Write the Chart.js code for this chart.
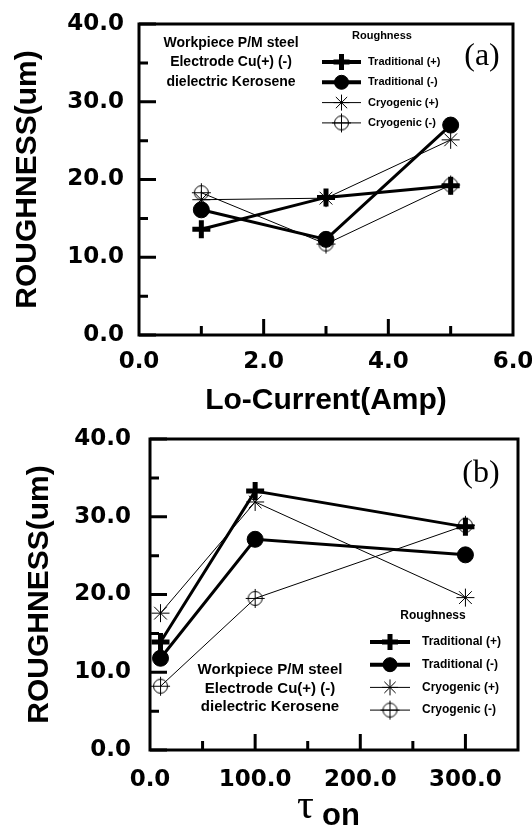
<!DOCTYPE html>
<html>
<head>
<meta charset="utf-8">
<script src="https://cdn.jsdelivr.net/npm/chart.js@4.4.1/dist/chart.umd.min.js"></script>
<style>
  body { margin: 0; background: #fff; width: 532px; height: 827px; overflow: hidden; position: relative; }
  .panel { position: absolute; left: 0; width: 532px; }
</style>
</head>
<body>
<div class="panel" style="top:0;height:420px"><canvas id="chartA"></canvas></div>
<div class="panel" style="top:414px;height:413px"><canvas id="chartB"></canvas></div>
<script>
const seriesNames = ["Traditional (+)", "Traditional (-)", "Cryogenic (+)", "Cryogenic (-)"];
const legendTitle = "Roughness";
const noteLines = ["Workpiece P/M steel", "Electrode Cu(+) (-)", "dielectric Kerosene"];
const yTitle = "ROUGHNESS(um)";

// (a) roughness vs low current
const currentX = [1, 3, 5];
const currentTradPlus = [13.6, 17.7, 19.2];
const currentTradMinus = [16.1, 12.3, 27.0];
const currentCryoPlus = [17.4, 17.6, 25.1];
const currentCryoMinus = [18.3, 11.7, 19.3];
const currentTicks = [0, 2, 4, 6];
const currentMinorTicks = [1, 3, 5];

// (b) roughness vs pulse on-time
const tonX = [10, 100, 300];
const tonTradPlus = [13.9, 33.3, 28.7];
const tonTradMinus = [11.8, 27.1, 25.1];
const tonCryoPlus = [17.6, 31.9, 19.6];
const tonCryoMinus = [8.2, 19.5, 28.9];
const tonTicks = [0, 100, 200, 300];
const tonMinorTicks = [50, 150, 250];

const roughTicks = [0, 10, 20, 30, 40];
const roughMinorTicks = [5, 15, 25, 35];

const SANS = "'Liberation Sans', Arial, sans-serif";
const SERIF = "'Liberation Serif', 'Times New Roman', serif";

// open circle with a cross through it
function circlePlus() {
    const c = document.createElement("canvas");
    c.width = 21; c.height = 21;
    const g = c.getContext("2d");
    g.strokeStyle = "#000";
    g.lineWidth = 1;
    g.beginPath();
    g.arc(10.5, 10.5, 7, 0, Math.PI * 2);
    g.moveTo(10.5, 1); g.lineTo(10.5, 20);
    g.moveTo(1, 10.5); g.lineTo(20, 10.5);
    g.stroke();
    return c;
}

const seriesStyle = [
    { borderWidth: 3, pointStyle: "cross", pointRadius: 9, pointBorderWidth: 5 },
    { borderWidth: 3, pointStyle: "circle", pointRadius: 8, pointBorderWidth: 1 },
    { borderWidth: 1, pointStyle: "star", pointRadius: 9, pointBorderWidth: 1 },
    { borderWidth: 1, pointStyle: circlePlus(), pointRadius: 8, pointBorderWidth: 1 },
];

function makeDatasets(xs, series) {
    return series.map((vals, i) => Object.assign({
        label: seriesNames[i],
        data: vals.map((v, j) => ({ x: xs[j], y: v })),
        showLine: true,
        borderColor: "#000",
        pointBorderColor: "#000",
        pointBackgroundColor: "#000",
    }, seriesStyle[i]));
}

// frame, inward ticks, legend, notes
function decor(cfg) {
    return {
        id: "decor",
        afterDraw(chart) {
            const { ctx, chartArea: a, scales: { x, y } } = chart;
            ctx.save();
            ctx.strokeStyle = "#000";
            ctx.fillStyle = "#000";
            ctx.lineWidth = 3;
            ctx.strokeRect(a.left, a.top, a.right - a.left, a.bottom - a.top);

            ctx.beginPath();
            cfg.xMajor.forEach(v => { const p = x.getPixelForValue(v); ctx.moveTo(p, a.bottom); ctx.lineTo(p, a.bottom - 16); });
            cfg.xMinor.forEach(v => { const p = x.getPixelForValue(v); ctx.moveTo(p, a.bottom); ctx.lineTo(p, a.bottom - 9); });
            roughTicks.forEach(v => { const p = y.getPixelForValue(v); ctx.moveTo(a.left, p); ctx.lineTo(a.left + 17, p); });
            roughMinorTicks.forEach(v => { const p = y.getPixelForValue(v); ctx.moveTo(a.left, p); ctx.lineTo(a.left + 9, p); });
            ctx.stroke();

            // note text
            ctx.textAlign = "center";
            ctx.textBaseline = "middle";
            ctx.font = "bold " + cfg.note.size + "px " + SANS;
            noteLines.forEach((t, i) => ctx.fillText(t, cfg.note.x, cfg.note.y + i * cfg.note.dy));

            // legend
            const L = cfg.legend;
            ctx.font = "bold " + L.size + "px " + SANS;
            ctx.fillText(legendTitle, L.titleX, L.titleY);
            ctx.textAlign = "left";
            chart.data.datasets.forEach((ds, i) => {
                const ry = L.y + i * L.dy;
                ctx.lineWidth = ds.borderWidth === 3 ? 4 : 1;
                ctx.beginPath();
                ctx.moveTo(L.x0, ry); ctx.lineTo(L.x1, ry);
                ctx.stroke();
                ctx.lineWidth = ds.pointBorderWidth;
                Chart.helpers.drawPoint(ctx, { pointStyle: ds.pointStyle, radius: ds.pointRadius - 1, rotation: 0, borderWidth: ds.pointBorderWidth }, (L.x0 + L.x1) / 2, ry);
                ctx.fillText(ds.label, L.textX, ry);
            });

            // panel label
            ctx.textAlign = "center";
            ctx.font = "32px " + SERIF;
            ctx.fillText(cfg.panel.text, cfg.panel.x, cfg.panel.y);

            if (cfg.tau) {
                ctx.textAlign = "left";
                ctx.textBaseline = "alphabetic";
                ctx.font = "42px " + SERIF;
                ctx.fillText("\u03c4", cfg.tau.x, cfg.tau.y);
                ctx.font = "bold 31px " + SANS;
                ctx.fillText("on", cfg.tau.x + 25, cfg.tau.y + 7);
            }
            ctx.restore();
        }
    };
}

function makeChart(id, o) {
    const tickFont = { family: "'DejaVu Sans', sans-serif", size: 23, weight: "bold" };
    return new Chart(document.getElementById(id), {
        type: "scatter",
        data: { datasets: makeDatasets(o.xs, o.series) },
        options: {
            responsive: true,
            maintainAspectRatio: false,
            animation: false,
            events: [],
            layout: { padding: o.pad },
            plugins: { legend: { display: false }, tooltip: { enabled: false } },
            scales: {
                x: {
                    type: "linear", min: o.xMin, max: o.xMax,
                    afterBuildTicks: s => { s.ticks = o.xTicks.map(v => ({ value: v })); },
                    afterFit: s => { s.height = o.xHeight; s.paddingLeft = 0; s.paddingRight = 0; },
                    grid: { display: false, drawTicks: false },
                    border: { display: false },
                    ticks: { autoSkip: false, maxRotation: 0, padding: o.xTickPad, color: "#000", font: tickFont, callback: v => v.toFixed(1) },
                    title: o.xTitle ? {
                        display: true, text: o.xTitle, color: "#000",
                        font: { family: SANS, size: 30, weight: "bold", lineHeight: 1 },
                        padding: { top: 0, bottom: o.xTitlePad }
                    } : { display: false }
                },
                y: {
                    min: 0, max: 40,
                    afterBuildTicks: s => { s.ticks = roughTicks.map(v => ({ value: v })); },
                    afterFit: s => { s.width = o.yWidth; s.paddingTop = 0; s.paddingBottom = 0; },
                    grid: { display: false, drawTicks: false },
                    border: { display: false },
                    ticks: { autoSkip: false, padding: o.yTickPad, color: "#000", font: tickFont, callback: v => v.toFixed(1) },
                    title: {
                        display: true, text: yTitle, color: "#000",
                        font: { family: SANS, size: 30, weight: "bold", lineHeight: 1.2 },
                        padding: { top: o.yTitlePad, bottom: 0 }
                    }
                }
            }
        },
        plugins: [decor(o.decor)]
    });
}

makeChart("chartA", {
    xs: currentX,
    series: [currentTradPlus, currentTradMinus, currentCryoPlus, currentCryoMinus],
    xMin: 0, xMax: 6, xTicks: currentTicks,
    xTitle: "Lo-Current(Amp)", xTitlePad: 4,
    pad: { top: 24, right: 19, left: 0, bottom: 0 },
    xHeight: 85, yWidth: 139, xTickPad: 13, yTickPad: 15, yTitlePad: 10,
    decor: {
        xMajor: [2, 4], xMinor: currentMinorTicks,
        note: { x: 231, y: 43, dy: 19.5, size: 14 },
        legend: { titleX: 382, titleY: 36, y: 62, dy: 20.3, x0: 322, x1: 361, textX: 368, size: 11 },
        panel: { text: "(a)", x: 482, y: 57 }
    }
});

makeChart("chartB", {
    xs: tonX,
    series: [tonTradPlus, tonTradMinus, tonCryoPlus, tonCryoMinus],
    xMin: 0, xMax: 350, xTicks: tonTicks,
    xTitle: null,
    pad: { top: 25, right: 10, left: 0, bottom: 0 },
    xHeight: 77, yWidth: 150, xTickPad: 16, yTickPad: 19, yTitlePad: 22,
    decor: {
        xMajor: [100, 200, 300], xMinor: tonMinorTicks,
        note: { x: 270, y: 256, dy: 18.5, size: 15 },
        legend: { titleX: 433, titleY: 202, y: 228, dy: 22.7, x0: 370, x1: 410, textX: 422, size: 12 },
        panel: { text: "(b)", x: 481, y: 60 },
        tau: { x: 297, y: 404 }
    }
});
</script>
</body>
</html>
